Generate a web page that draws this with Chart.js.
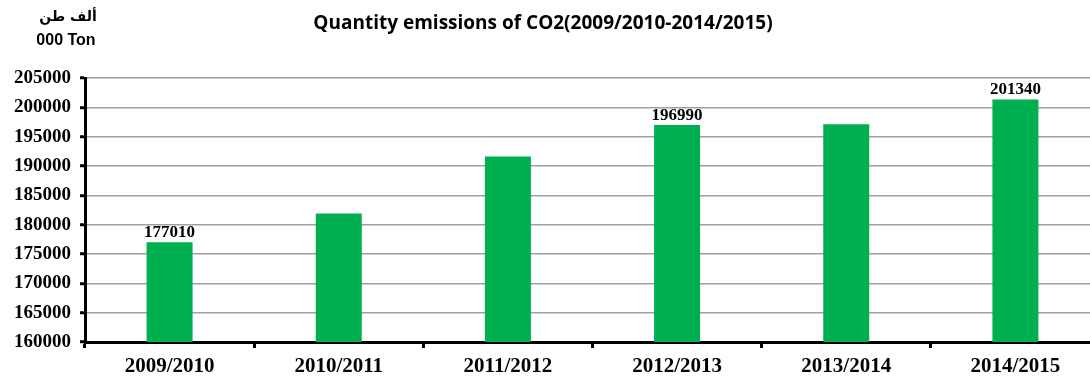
<!DOCTYPE html>
<html>
<head>
<meta charset="utf-8">
<script src="https://cdn.jsdelivr.net/npm/chart.js@4"></script>
<style>
    body { margin: 0; background: #fff; overflow: hidden; }
    #wrap { position: relative; width: 1100px; height: 383px; }
</style>
</head>
<body>
<div id="wrap"><canvas id="canvas"></canvas></div>
<script>
var years = ['2009/2010', '2010/2011', '2011/2012', '2012/2013', '2013/2014', '2014/2015'];
var emissions = [177010, 181900, 191600, 196990, 197100, 201340];
var showValue = [true, false, false, true, false, true];
var yMin = 160000;
var yMax = 205000;
var yStep = 5000;
var chartTitle = 'Quantity emissions of CO2(2009/2010-2014/2015)';
var unitArabic = 'ألف طن';
var unitEnglish = '000 Ton';

// title and unit text sit at fixed spots in the 1090px picture
var headerText = {
    id: 'headerText',
    afterDraw: function(chart) {
        var ctx = chart.ctx;
        ctx.save();
        ctx.fillStyle = '#000';
        ctx.textAlign = 'center';
        ctx.textBaseline = 'middle';
        ctx.font = 'bold 19px "Open Sans"';
        ctx.fillText(chartTitle, 543, 24);
        ctx.font = 'bold 14px "DejaVu Sans"';
        ctx.fillText(unitArabic, 68, 17);
        ctx.font = 'bold 16px "Liberation Sans"';
        ctx.fillText(unitEnglish, 66, 41);
        ctx.restore();
    }
};

var valueLabels = {
    id: 'valueLabels',
    afterDatasetsDraw: function(chart) {
        var ctx = chart.ctx;
        var meta = chart.getDatasetMeta(0);
        ctx.save();
        ctx.fillStyle = '#000';
        ctx.textAlign = 'center';
        ctx.textBaseline = 'alphabetic';
        ctx.font = 'bold 17px "Liberation Serif"';
        meta.data.forEach(function(bar, i) {
            if (showValue[i]) {
                ctx.fillText(String(emissions[i]), bar.x, bar.y - 5);
            }
        });
        ctx.restore();
    }
};

var config = {
    type: 'bar',
    data: {
        labels: years,
        datasets: [{
            label: 'CO2',
            data: emissions,
            backgroundColor: '#00b050',
            borderWidth: 0,
            categoryPercentage: 1,
            barPercentage: 0.272
        }]
    },
    options: {
        responsive: true,
        maintainAspectRatio: false,
        animation: false,
        layout: {
            padding: { top: 78, right: 0, bottom: 0, left: 0 }
        },
        plugins: {
            legend: { display: false },
            title: { display: false },
            tooltip: { enabled: false }
        },
        scales: {
            x: {
                border: { color: '#000', width: 3 },
                grid: {
                    offset: true,
                    drawOnChartArea: false,
                    drawTicks: true,
                    tickColor: '#000',
                    tickWidth: 3,
                    tickLength: 6
                },
                ticks: {
                    color: '#000',
                    padding: 6,
                    font: { family: 'Liberation Serif', size: 21, weight: 'bold' }
                },
                afterFit: function(scale) { scale.height = 41; }
            },
            y: {
                min: yMin,
                max: yMax,
                border: { color: '#000', width: 3 },
                grid: {
                    color: '#a0a0a0',
                    lineWidth: 1.5,
                    tickColor: '#000',
                    tickWidth: 3,
                    tickLength: 5
                },
                ticks: {
                    stepSize: yStep,
                    color: '#000',
                    padding: 9,
                    font: { family: 'Liberation Serif', size: 19, weight: 'bold' },
                    callback: function(value) { return String(value); }
                },
                afterFit: function(scale) { scale.width = 85; }
            }
        }
    },
    plugins: [headerText, valueLabels]
};

window.onload = function() {
    var ctx = document.getElementById('canvas').getContext('2d');
    window.myBar = new Chart(ctx, config);
};
</script>
</body>
</html>
